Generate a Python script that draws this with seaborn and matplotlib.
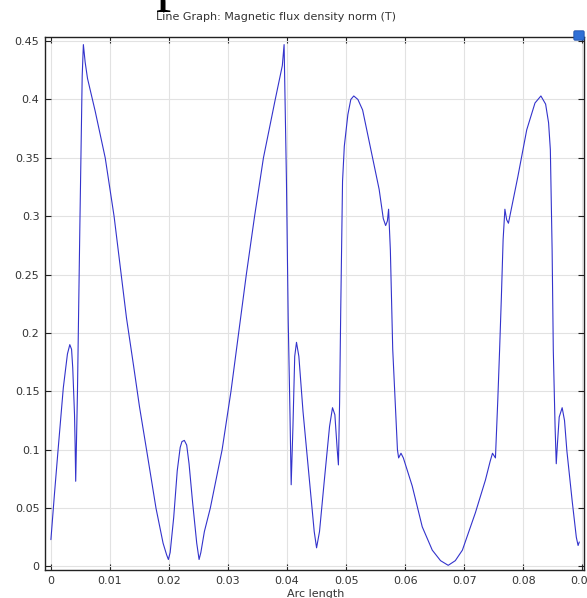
import matplotlib
matplotlib.use("Agg")
import matplotlib.pyplot as plt
import seaborn as sns
from matplotlib.patches import FancyBboxPatch

# values
arc_length = [
    0.0000, 0.0006, 0.0012, 0.0021, 0.0028, 0.0032, 0.0035, 0.0037, 0.0040, 0.0041,
    0.0042, 0.0045, 0.0049, 0.0053, 0.0055, 0.0058, 0.0062, 0.0075, 0.0092, 0.0107,
    0.0119, 0.0128, 0.0140, 0.0150, 0.0162, 0.0178, 0.0190, 0.0196, 0.0199, 0.0202,
    0.0208, 0.0214, 0.0219, 0.0222, 0.0226, 0.0230, 0.0234, 0.0240, 0.0247, 0.0251,
    0.0254, 0.0260, 0.0270, 0.0290, 0.0305, 0.0318, 0.0331, 0.0345, 0.0360, 0.0380,
    0.0392, 0.0395, 0.0399, 0.0402, 0.0405, 0.0407, 0.0410, 0.0413, 0.0416, 0.0420,
    0.0427, 0.0438, 0.0446, 0.0450, 0.0455, 0.0463, 0.0472, 0.0477, 0.0481, 0.0485,
    0.0487, 0.0489, 0.0491, 0.0494, 0.0497, 0.0503, 0.0508, 0.0513, 0.0520, 0.0528,
    0.0542, 0.0556, 0.0563, 0.0567, 0.0570, 0.0572, 0.0575, 0.0579, 0.0583, 0.0587,
    0.0589, 0.0593, 0.0597, 0.0612, 0.0629, 0.0646, 0.0660, 0.0673, 0.0685, 0.0697,
    0.0719, 0.0736, 0.0744, 0.0748, 0.0753, 0.0757, 0.0760, 0.0763, 0.0766, 0.0769,
    0.0772, 0.0775, 0.0791, 0.0806, 0.0820, 0.0830, 0.0838, 0.0843, 0.0846, 0.0849,
    0.0851, 0.0854, 0.0856, 0.0858, 0.0861, 0.0866, 0.0870, 0.0874, 0.0883, 0.0890,
    0.0893, 0.0895,
]
flux_norm = [
    0.023, 0.062, 0.099, 0.153, 0.182, 0.190, 0.186, 0.170, 0.130, 0.105,
    0.073, 0.150, 0.290, 0.420, 0.447, 0.432, 0.418, 0.390, 0.350, 0.300,
    0.250, 0.213, 0.172, 0.137, 0.100, 0.050, 0.020, 0.010, 0.006, 0.012,
    0.042, 0.082, 0.102, 0.107, 0.108, 0.104, 0.088, 0.055, 0.020, 0.006,
    0.012, 0.030, 0.050, 0.100, 0.150, 0.200, 0.250, 0.300, 0.350, 0.400,
    0.429, 0.447, 0.330, 0.210, 0.130, 0.070, 0.120, 0.180, 0.192, 0.180,
    0.133, 0.073, 0.030, 0.016, 0.030, 0.073, 0.120, 0.136, 0.130, 0.100,
    0.087, 0.140, 0.222, 0.330, 0.360, 0.387, 0.400, 0.403, 0.400, 0.391,
    0.357, 0.323, 0.298, 0.292, 0.296, 0.306, 0.271, 0.186, 0.143, 0.100,
    0.093, 0.097, 0.093, 0.069, 0.034, 0.014, 0.005, 0.001, 0.005, 0.014,
    0.046, 0.074, 0.090, 0.097, 0.093, 0.143, 0.185, 0.230, 0.280, 0.306,
    0.297, 0.294, 0.334, 0.374, 0.397, 0.403, 0.396, 0.380, 0.357, 0.271,
    0.185, 0.120, 0.088, 0.105, 0.128, 0.136, 0.125, 0.099, 0.056, 0.025,
    0.018, 0.021,
]
x_ticks = [0, 0.01, 0.02, 0.03, 0.04, 0.05, 0.06, 0.07, 0.08, 0.09]
x_labels = ["0", "0.01", "0.02", "0.03", "0.04", "0.05", "0.06", "0.07", "0.08", "0.09"]
y_ticks = [0, 0.05, 0.1, 0.15, 0.2, 0.25, 0.3, 0.35, 0.4, 0.45]
y_labels = ["0", "0.05", "0.1", "0.15", "0.2", "0.25", "0.3", "0.35", "0.4", "0.45"]

sns.set_style("whitegrid")
plt.rcParams["font.family"] = ["DejaVu Sans"]

fig = plt.figure(figsize=(5.87, 5.98), dpi=100)
ax = fig.add_axes([45 / 587, 1 - 570 / 598, 539 / 587, 533 / 598])

sns.lineplot(x=arc_length, y=flux_norm, sort=False, estimator=None,
             color="#3333cc", linewidth=0.8, ax=ax)

ax.set_xlim(-0.001, 0.0903)
ax.set_ylim(-0.003, 0.4535)
ax.set_xticks(x_ticks)
ax.set_xticklabels(x_labels)
ax.set_yticks(y_ticks)
ax.set_yticklabels(y_labels)
ax.grid(True, color="#e2e2e2", linewidth=0.8)
ax.tick_params(direction="in", length=4, width=0.8, color="#222222",
               labelsize=8, labelcolor="#333333", top=True, right=True,
               bottom=True, left=True, pad=4)
for side in ["left", "bottom", "top", "right"]:
    ax.spines[side].set_color("#222222")
    ax.spines[side].set_linewidth(1.0)

fig.text(276 / 587, 1 - 17 / 598, "Line Graph: Magnetic flux density norm (T)",
         ha="center", va="center", fontsize=8, color="#333333")
fig.text(316 / 587, 1 - 589 / 598, "Arc length",
         ha="center", va="top", fontsize=8, color="#333333")

# cropped glyph at the top edge of the screenshot (only its descender shows)
fig.text(156 / 587, 1 + 1 / 598, "p", ha="left", va="baseline", fontsize=44,
         family="Liberation Serif", color="black")

# small toolbar icon at top right
fig.patches.append(FancyBboxPatch((575 / 587, 1 - 39 / 598), 8 / 587, 7 / 598,
                                  boxstyle="round,pad=0.002", transform=fig.transFigure,
                                  facecolor="#2f6fd6", edgecolor="#1d4fa8", linewidth=0.6,
                                  figure=fig, zorder=5))

fig.savefig("out.png", dpi=100)
